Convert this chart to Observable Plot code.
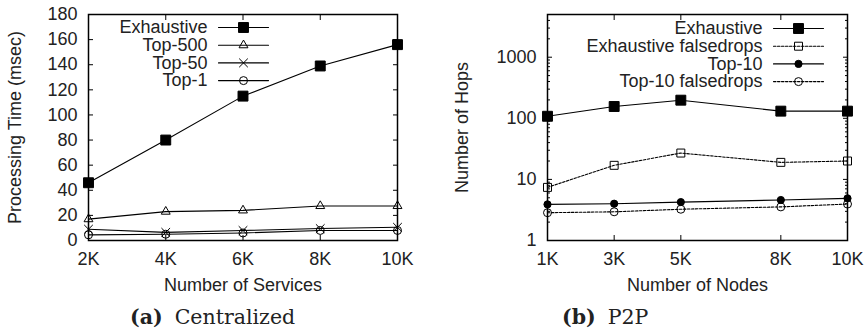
<!DOCTYPE html>
<html>
<head>
<meta charset="utf-8">
<script src="https://cdn.jsdelivr.net/npm/d3@7"></script>
<script src="https://cdn.jsdelivr.net/npm/@observablehq/plot@0.6"></script>
<style>
  body { margin: 0; background: #fff; }
  #wrap { position: relative; width: 868px; height: 333px; overflow: hidden; }
  .panel { position: absolute; top: 0; width: 434px; height: 300px; }
  .cap { position: absolute; top: 304px; white-space: nowrap;
         font-family: "DejaVu Serif", serif; font-size: 20.5px; line-height: 26px; color: #222; }
  .cap b { margin-right: 12px; }
</style>
</head>
<body>
<div id="wrap">
  <div class="panel" id="left" style="left:0px"></div>
  <div class="panel" id="right" style="left:434px"></div>
  <div class="cap" style="left:130px"><b>(a)</b>Centralized</div>
  <div class="cap" style="left:562px"><b>(b)</b>P2P</div>
</div>
<script>
// ---------- Data: (a) Centralized ----------
const services = [2, 4, 6, 8, 10];               // thousands
const servicesTickLabels = ["2K", "4K", "6K", "8K", "10K"];
const timeExhaustive = [46, 80, 115, 139, 156];
const timeTop500 = [17, 23, 24, 27.5, 27.5];
const timeTop50 = [9, 6.5, 8, 9.5, 10.5];
const timeTop1 = [4.5, 5, 6, 8, 8];
const timeTicks = [0, 20, 40, 60, 80, 100, 120, 140, 160, 180];

// ---------- Data: (b) P2P ----------
const nodes = [1, 3, 5, 8, 10];                   // thousands
const nodesTickLabels = ["1K", "3K", "5K", "8K", "10K"];
const hopsExhaustive = [108, 156, 198, 131, 131];
const hopsExhaustiveFalse = [7.4, 17, 27, 19, 20];
const hopsTop10 = [3.9, 4.0, 4.25, 4.6, 4.9];
const hopsTop10False = [2.85, 2.95, 3.25, 3.55, 3.95];
const hopsMajorTicks = [1, 10, 100, 1000];
const hopsMinorTicks = [2,3,4,5,6,7,8,9,20,30,40,50,60,70,80,90,200,300,400,500,600,700,800,900,2000,3000,4000,5000];

const FONT = "Liberation Sans, Arial, sans-serif";
const INK = "#222";

const seriesA = [
  {name: "Exhaustive", values: timeExhaustive, symbol: "square", r: 5.6, fill: "black", dash: null},
  {name: "Top-500", values: timeTop500, symbol: "triangle", r: 3.3, fill: "none", dash: null},
  {name: "Top-50", values: timeTop50, symbol: "times", r: 4, fill: "none", dash: null},
  {name: "Top-1", values: timeTop1, symbol: "circle", r: 4, fill: "none", dash: null}
];
const seriesB = [
  {name: "Exhaustive", values: hopsExhaustive, symbol: "square", r: 5.6, fill: "black", dash: null},
  {name: "Exhaustive falsedrops", values: hopsExhaustiveFalse, symbol: "square", r: 4.5, fill: "none", dash: "2.5,1.5"},
  {name: "Top-10", values: hopsTop10, symbol: "circle", r: 3.6, fill: "black", dash: null},
  {name: "Top-10 falsedrops", values: hopsTop10False, symbol: "circle", r: 4, fill: "none", dash: "2.5,1.5"}
];

const lineShape = {draw(ctx, l) { ctx.moveTo(0, 0); ctx.lineTo(0, -l); }};

function seriesMarks(xs, series) {
  const marks = [];
  for (const s of series) {
    const rows = xs.map((x, i) => ({x, y: s.values[i]}));
    marks.push(Plot.line(rows, {x: "x", y: "y", stroke: "black", strokeWidth: 1.1, strokeDasharray: s.dash}));
    marks.push(Plot.dot(rows, {x: "x", y: "y", symbol: () => s.symbol, r: s.r, fill: s.fill,
      stroke: "black", strokeWidth: 1}));
  }
  return marks;
}

function legendMarks(series, textDx, lineDx, dy0, step) {
  const marks = [];
  series.forEach((s, i) => {
    const dy = dy0 + step * i;
    marks.push(Plot.text([s.name], {frameAnchor: "top-left", text: d => d, dx: textDx, dy,
      textAnchor: "end", lineAnchor: "middle", fill: INK}));
    marks.push(Plot.vector([s.name], {frameAnchor: "top-left", dx: lineDx, dy, length: 50, rotate: 90,
      anchor: "start", shape: lineShape, stroke: "black", strokeWidth: 1.1, strokeDasharray: s.dash}));
    marks.push(Plot.dot([s.name], {frameAnchor: "top-left", dx: lineDx + 25, dy, symbol: () => s.symbol,
      r: s.r, fill: s.fill, stroke: "black", strokeWidth: 1}));
  });
  return marks;
}

function axisTitleMarks(xLabel, yLabel, yDx) {
  return [
    Plot.text([xLabel], {frameAnchor: "bottom", text: d => d, dy: 45, lineAnchor: "middle", fill: INK}),
    Plot.text([yLabel], {frameAnchor: "left", text: d => d, dx: yDx, rotate: -90, lineAnchor: "middle",
      textAnchor: "middle", fill: INK})
  ];
}

// ---------- (a) ----------
const plotA = Plot.plot({
  width: 434, height: 300,
  marginLeft: 88, marginRight: 37, marginTop: 14, marginBottom: 60,
  style: {fontFamily: FONT, fontSize: "18px", color: INK, background: "white"},
  x: {type: "linear", domain: [2, 10]},
  y: {type: "linear", domain: [0, 180]},
  marks: [
    Plot.axisX(services, {anchor: "bottom", tickSize: 0, tickPadding: 12, fill: INK,
      tickFormat: d => servicesTickLabels[services.indexOf(d)], label: null}),
    Plot.axisX(services, {anchor: "bottom", tickSize: -5, text: null, label: null, stroke: "black"}),
    Plot.axisX(services, {anchor: "top", tickSize: -5, text: null, label: null, stroke: "black"}),
    Plot.axisY(timeTicks, {anchor: "left", tickSize: 0, tickPadding: 11, fill: INK, label: null}),
    Plot.axisY(timeTicks, {anchor: "left", tickSize: -5, text: null, label: null, stroke: "black"}),
    Plot.axisY(timeTicks, {anchor: "right", tickSize: -5, text: null, label: null, stroke: "black"}),
    ...axisTitleMarks("Number of Services", "Processing Time (msec)", -73),
    ...seriesMarks(services, seriesA),
    ...legendMarks(seriesA, 119, 130, 13, 17.7),
    Plot.frame({stroke: "black", strokeWidth: 1.5})
  ]
});
document.getElementById("left").appendChild(plotA);

// ---------- (b) ----------
const plotB = Plot.plot({
  width: 434, height: 300,
  marginLeft: 113, marginRight: 21, marginTop: 14, marginBottom: 60,
  style: {fontFamily: FONT, fontSize: "18px", color: INK, background: "white"},
  x: {type: "linear", domain: [1, 10]},
  y: {type: "log", domain: [1, 5000]},
  marks: [
    Plot.axisX(nodes, {anchor: "bottom", tickSize: 0, tickPadding: 12, fill: INK,
      tickFormat: d => nodesTickLabels[nodes.indexOf(d)], label: null}),
    Plot.axisX(nodes, {anchor: "bottom", tickSize: -5, text: null, label: null, stroke: "black"}),
    Plot.axisX(nodes, {anchor: "top", tickSize: -5, text: null, label: null, stroke: "black"}),
    Plot.axisY(hopsMajorTicks, {anchor: "left", tickSize: 0, tickPadding: 11, fill: INK, label: null,
      tickFormat: d => String(d)}),
    Plot.axisY(hopsMajorTicks, {anchor: "left", tickSize: -5, text: null, label: null, stroke: "black"}),
    Plot.axisY(hopsMajorTicks, {anchor: "right", tickSize: -5, text: null, label: null, stroke: "black"}),
    Plot.axisY(hopsMinorTicks, {anchor: "left", tickSize: -3, text: null, label: null, stroke: "black"}),
    Plot.axisY(hopsMinorTicks, {anchor: "right", tickSize: -3, text: null, label: null, stroke: "black"}),
    ...axisTitleMarks("Number of Nodes", "Number of Hops", -85),
    ...seriesMarks(nodes, seriesB),
    ...legendMarks(seriesB, 215, 226, 14, 17.7),
    Plot.frame({stroke: "black", strokeWidth: 1.5})
  ]
});
document.getElementById("right").appendChild(plotB);
</script>
</body>
</html>
